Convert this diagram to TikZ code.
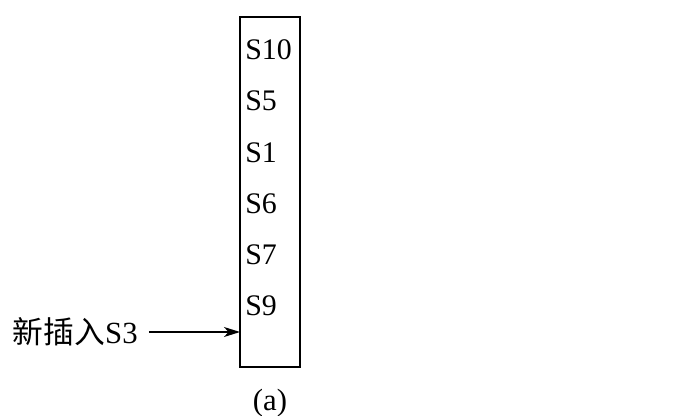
\documentclass[tikz,border=0pt]{standalone}
\usepackage{fontspec}
\setmainfont{Liberation Serif}
\newfontfamily\cjk{Noto Sans CJK SC}
\usetikzlibrary{positioning, arrows.meta}

\begin{document}
\begin{tikzpicture}[x=0.02cm, y=-0.02cm,
    slot/.style={anchor=west, inner sep=0pt, font=\fontsize{17}{19}\selectfont},
    tag/.style={inner sep=0pt, font=\fontsize{17.5}{20}\selectfont}]
        \useasboundingbox (0,0) rectangle (684,416);
        % the stack
        \draw[line width=1.1pt] (240,17) rectangle (300,367);
        \foreach \s [count=\i] in {S10,S5,S1,S6,S7,S9}
          \node[slot] (s\i) at (245, {50+51.2*(\i-1)}) {\s};
        % new item
        \node[tag, anchor=east] (newS) at (138,332) {{\cjk 新插入}S3};
        \coordinate (entry) at (240,332);
        \draw[line width=0.8pt, -{Stealth[length=0.32cm, width=0.2cm, inset=0.09cm]}, shorten <=0.22cm] (newS.east) -- (entry);
        \node[tag] (cap) at (270,403) {(a)};
      \end{tikzpicture}
\end{document}
